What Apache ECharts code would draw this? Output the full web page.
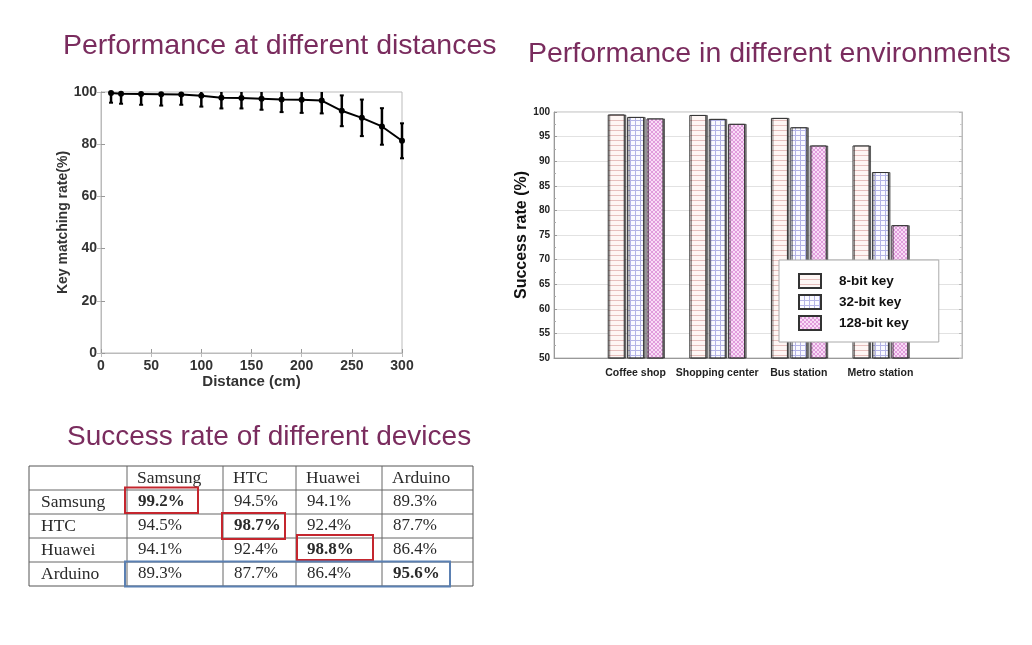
<!DOCTYPE html>
<html>
<head>
<meta charset="utf-8">
<script src="https://cdn.jsdelivr.net/npm/echarts@6/dist/echarts.min.js"></script>
<style>
html,body{margin:0;padding:0;background:#fff;}
#chart{width:1032px;height:645px;}
</style>
</head>
<body>
<div id="chart"></div>
<script>
// ---- data ----
const distances = [10, 20, 40, 60, 80, 100, 120, 140, 160, 180, 200, 220, 240, 260, 280, 300];
const matchRate = [99.6, 99.3, 99.2, 99.1, 99.0, 98.6, 97.8, 97.7, 97.4, 97.1, 97.0, 96.7, 92.8, 90.1, 86.8, 81.3];
const matchErr  = [3.7, 3.8, 4.1, 4.3, 3.9, 4.2, 4.1, 4.0, 4.2, 4.8, 5.0, 4.9, 5.9, 7.0, 7.0, 6.7];

const environments = ['Coffee shop', 'Shopping center', 'Bus station', 'Metro station'];
const keyNames = ['8-bit key', '32-bit key', '128-bit key'];
const key8   = [99.5, 99.4, 98.8, 93.2];
const key32  = [99.0, 98.6, 96.9, 87.8];
const key128 = [98.7, 97.6, 93.2, 77.0];

const devices = ['Samsung', 'HTC', 'Huawei', 'Arduino'];
const successSamsung = [99.2, 94.5, 94.1, 89.3];
const successHTC     = [94.5, 98.7, 92.4, 87.7];
const successHuawei  = [94.1, 92.4, 98.8, 86.4];
const successArduino = [89.3, 87.7, 86.4, 95.6];

const titles = ['Performance at different distances', 'Performance in different environments', 'Success rate of different devices'];

// ---- patterns ----
function makePattern(kind) {
  const c = document.createElement('canvas');
  const ctx = c.getContext('2d');
  if (kind === 0) {
    c.width = 6; c.height = 5;
    ctx.fillStyle = '#fef6f4'; ctx.fillRect(0, 0, 6, 5);
    ctx.fillStyle = '#e6bfbd'; ctx.fillRect(0, 0, 6, 1);
  } else if (kind === 1) {
    c.width = 5; c.height = 5;
    ctx.fillStyle = '#fafaff'; ctx.fillRect(0, 0, 5, 5);
    ctx.fillStyle = '#b4b4e6'; ctx.fillRect(0, 0, 5, 1); ctx.fillRect(0, 0, 1, 5);
  } else {
    c.width = 4; c.height = 4;
    ctx.fillStyle = '#f9dcf6'; ctx.fillRect(0, 0, 4, 4);
    ctx.fillStyle = '#e09ddc';
    for (let i = 0; i < 4; i++) { ctx.fillRect(i, i, 1, 1); ctx.fillRect(3 - i, i, 1, 1); }
  }
  return { image: c, repeat: 'repeat' };
}

const chart = echarts.init(document.getElementById('chart'), null, { renderer: 'canvas' });

const titleColor = '#7a2c5e';
const sans = '"Liberation Sans", Arial, sans-serif';
const serif = '"Liberation Serif", "DejaVu Serif", serif';

// ---- table graphics ----
const tableRows = [successSamsung, successHTC, successHuawei, successArduino];
const colX = [29, 127, 223, 296, 382, 473];
const rowY = [466, 490, 514, 538, 562, 586];
const tableEls = [];
tableEls.push({ type: 'rect', shape: { x: colX[0], y: rowY[0], width: colX[5] - colX[0], height: rowY[5] - rowY[0] }, style: { fill: '#fff', stroke: '#555', lineWidth: 1 } });
for (let i = 1; i < 5; i++) {
  tableEls.push({ type: 'line', shape: { x1: colX[0], y1: rowY[i], x2: colX[5], y2: rowY[i] }, style: { stroke: '#666', lineWidth: 1 } });
  tableEls.push({ type: 'line', shape: { x1: colX[i], y1: rowY[0], x2: colX[i], y2: rowY[5] }, style: { stroke: '#666', lineWidth: 1 } });
}
devices.forEach((d, j) => {
  tableEls.push({ type: 'text', style: { text: d, x: colX[j + 1] + 10, y: (rowY[0] + rowY[1]) / 2, font: '17.5px ' + serif, fill: '#2a2a2a', verticalAlign: 'middle' } });
  tableEls.push({ type: 'text', style: { text: d, x: colX[0] + 12, y: (rowY[j + 1] + rowY[j + 2]) / 2, font: '17.5px ' + serif, fill: '#2a2a2a', verticalAlign: 'middle' } });
});
tableRows.forEach((row, r) => {
  row.forEach((v, c) => {
    tableEls.push({ type: 'text', style: { text: v.toFixed(1) + '%', x: colX[c + 1] + 11, y: (rowY[r + 1] + rowY[r + 2]) / 2, font: (r === c ? 'bold ' : '') + '17px ' + serif, fill: '#2a2a2a', verticalAlign: 'middle' } });
  });
});
// highlight boxes
tableEls.push({ type: 'rect', shape: { x: 125, y: 487.5, width: 73, height: 25.5 }, style: { fill: 'none', stroke: '#c4262e', lineWidth: 2 } });
tableEls.push({ type: 'rect', shape: { x: 222, y: 513, width: 63, height: 26 }, style: { fill: 'none', stroke: '#c4262e', lineWidth: 2 } });
tableEls.push({ type: 'rect', shape: { x: 297, y: 535, width: 76, height: 25 }, style: { fill: 'none', stroke: '#c4262e', lineWidth: 2 } });
tableEls.push({ type: 'rect', shape: { x: 125, y: 561.5, width: 325, height: 25 }, style: { fill: 'none', stroke: '#5b80b2', lineWidth: 2 } });

const graphics = [
  { type: 'text', style: { text: titles[0], x: 63, y: 46, font: '28.5px ' + sans, fill: titleColor, verticalAlign: 'middle' } },
  { type: 'text', style: { text: titles[1], x: 528, y: 54, font: '28.5px ' + sans, fill: titleColor, verticalAlign: 'middle' } },
  { type: 'text', style: { text: titles[2], x: 67, y: 437, font: '28px ' + sans, fill: titleColor, verticalAlign: 'middle' } },
  { type: 'group', children: tableEls }
];

const errData = distances.map((d, i) => [d, matchRate[i] - matchErr[i], matchRate[i] + matchErr[i]]);

const axisLabelA = { fontFamily: sans, fontWeight: 'bold', fontSize: 14, color: '#333' };
const axisLabelB = { fontFamily: sans, fontWeight: 'bold', fontSize: 10, color: '#222' };
const patterns = [makePattern(0), makePattern(1), makePattern(2)];
const barCats = [''].concat(environments).concat(['']);
const barValues = [key8, key32, key128];

const option = {
  backgroundColor: '#fff',
  animation: false,
  graphic: graphics,
  grid: [
    { left: 101, top: 92, width: 301, height: 261, show: true, borderColor: '#bbb', borderWidth: 1 },
    { left: 554, top: 112, width: 408, height: 246, show: true, borderColor: '#bbb', borderWidth: 1 }
  ],
  legend: {
    data: keyNames,
    orient: 'vertical',
    left: 779, top: 260,
    padding: [13, 30, 11, 19],
    itemGap: 5,
    itemWidth: 22, itemHeight: 14,
    icon: 'rect',
    backgroundColor: '#fff',
    borderColor: '#aaa', borderWidth: 1,
    textStyle: { fontFamily: sans, fontWeight: 'bold', fontSize: 13.5, color: '#111', padding: [0, 0, 0, 13] }
  },
  xAxis: [
    { type: 'value', gridIndex: 0, min: 0, max: 300, interval: 50,
      name: 'Distance (cm)', nameLocation: 'middle', nameGap: 21,
      nameTextStyle: { fontFamily: sans, fontWeight: 'bold', fontSize: 15, color: '#333' },
      axisLine: { lineStyle: { color: '#999' } },
      axisTick: { inside: true, length: 4, lineStyle: { color: '#999' } },
      axisLabel: Object.assign({ margin: 6 }, axisLabelA),
      splitLine: { show: false } },
    { type: 'value', gridIndex: 0, position: 'top', min: 0, max: 300, interval: 50,
      axisLine: { lineStyle: { color: '#bbb' } },
      axisTick: { inside: true, length: 4, lineStyle: { color: '#bbb' } },
      axisLabel: { show: false }, splitLine: { show: false } },
    { type: 'category', gridIndex: 1, data: barCats, boundaryGap: false,
      axisLine: { lineStyle: { color: '#999' } },
      axisTick: { show: false },
      axisLabel: { margin: 10, interval: 0, fontSize: 10.5, fontFamily: sans, fontWeight: 'bold', color: '#222' },
      splitLine: { show: false } }
  ],
  yAxis: [
    { type: 'value', gridIndex: 0, min: 0, max: 100, interval: 20,
      name: 'Key matching rate(%)', nameLocation: 'middle', nameGap: 27,
      nameTextStyle: { fontFamily: sans, fontWeight: 'bold', fontSize: 14, color: '#333' },
      axisLine: { show: true, lineStyle: { color: '#999' } },
      axisTick: { show: true, inside: true, length: 4, lineStyle: { color: '#999' } },
      axisLabel: Object.assign({ margin: 4 }, axisLabelA),
      splitLine: { show: false } },
    { type: 'value', gridIndex: 0, position: 'right', min: 0, max: 100, interval: 20,
      axisLine: { show: true, lineStyle: { color: '#bbb' } },
      axisTick: { show: true, inside: true, length: 4, lineStyle: { color: '#bbb' } },
      axisLabel: { show: false }, splitLine: { show: false } },
    { type: 'value', gridIndex: 1, min: 50, max: 100, interval: 5,
      name: 'Success rate (%)', nameLocation: 'middle', nameGap: 14,
      nameTextStyle: { fontFamily: sans, fontWeight: 'bold', fontSize: 16, color: '#111' },
      axisLine: { show: true, lineStyle: { color: '#999' } },
      axisTick: { show: true, inside: true, length: 3, lineStyle: { color: '#999' } },
      minorTick: { show: true, splitNumber: 2, length: 2, lineStyle: { color: '#aaa' } },
      axisLabel: Object.assign({ margin: 4 }, axisLabelB),
      splitLine: { show: true, lineStyle: { color: '#e2e2e2' } } },
    { type: 'value', gridIndex: 1, position: 'right', min: 50, max: 100, interval: 5,
      axisLine: { show: true, lineStyle: { color: '#bbb' } },
      axisTick: { show: true, inside: true, length: 3, lineStyle: { color: '#bbb' } },
      minorTick: { show: true, splitNumber: 2, length: 2, lineStyle: { color: '#ccc' } },
      axisLabel: { show: false }, splitLine: { show: false } }
  ],
  series: [
    { type: 'line', xAxisIndex: 0, yAxisIndex: 0,
      data: distances.map((d, i) => [d, matchRate[i]]),
      symbol: 'circle', symbolSize: 6,
      lineStyle: { color: '#000', width: 2 },
      itemStyle: { color: '#000' }, z: 3 },
    { type: 'custom', xAxisIndex: 0, yAxisIndex: 0, data: errData, z: 4,
      renderItem: function (params, api) {
        const x = api.value(0), lo = api.value(1), hi = api.value(2);
        const top = api.coord([x, Math.min(hi, 100)]);
        const bot = api.coord([x, lo]);
        const ch = [
          { type: 'line', shape: { x1: top[0], y1: top[1], x2: bot[0], y2: bot[1] }, style: { stroke: '#000', lineWidth: 2.5 } },
          { type: 'line', shape: { x1: bot[0] - 2, y1: bot[1], x2: bot[0] + 2, y2: bot[1] }, style: { stroke: '#000', lineWidth: 2 } }
        ];
        if (hi <= 100) ch.push({ type: 'line', shape: { x1: top[0] - 2, y1: top[1], x2: top[0] + 2, y2: top[1] }, style: { stroke: '#000', lineWidth: 2 } });
        return { type: 'group', children: ch };
      } }
  ].concat(keyNames.map((n, k) => ({
    type: 'bar', name: n, xAxisIndex: 2, yAxisIndex: 2,
    data: ['-'].concat(barValues[k]).concat(['-']),
    barWidth: 17, barGap: '14%',
    itemStyle: { color: patterns[k], borderColor: '#333', borderWidth: 1, shadowColor: 'rgba(0,0,0,0.5)', shadowOffsetX: 1.5, shadowBlur: 0 }
  })))
};

chart.setOption(option);
</script>
</body>
</html>
